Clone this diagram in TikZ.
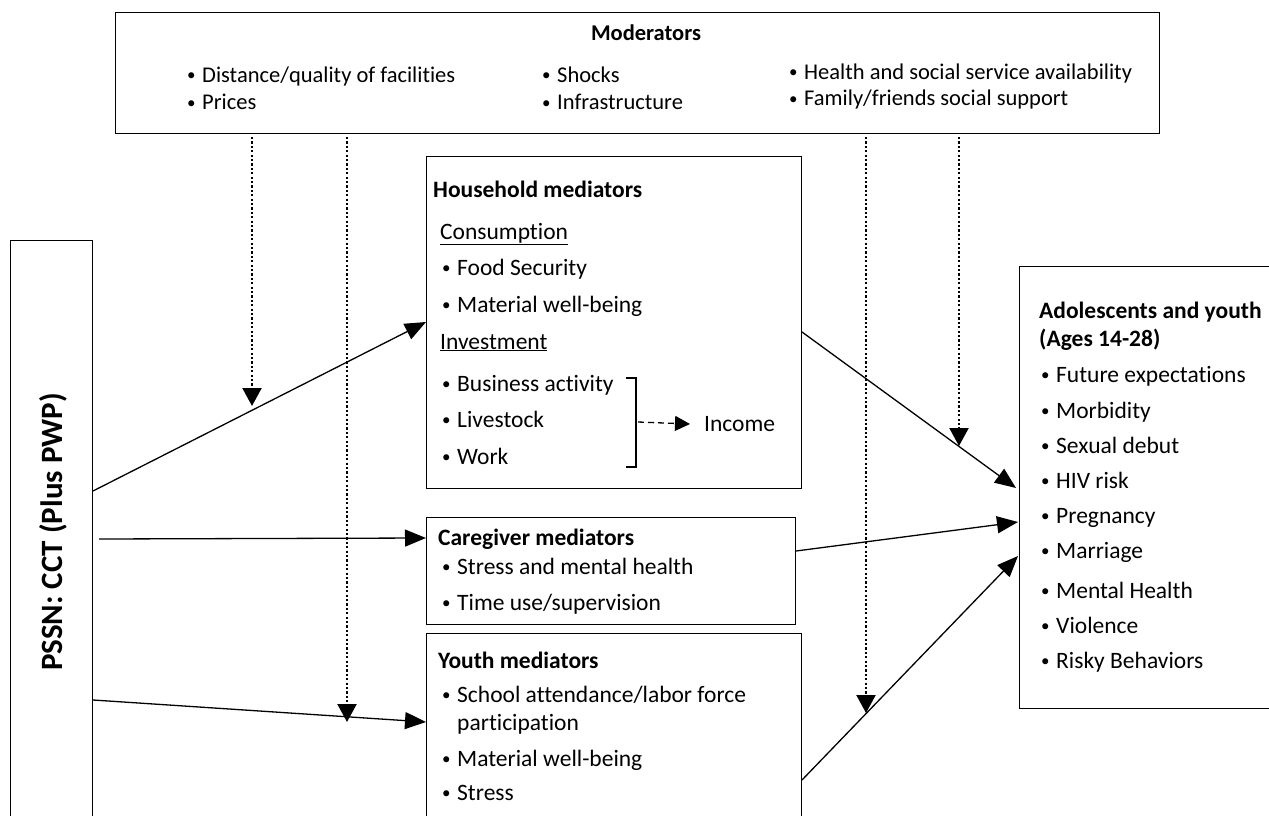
\documentclass[tikz,border=0pt]{standalone}
\usepackage{fontspec}
\setmainfont{Carlito}[Ligatures=NoCommon]
\usetikzlibrary{arrows.meta}
\newcommand{\bodyfont}{\fontsize{23.5}{28}\selectfont}
\newcommand{\modfont}{\fontsize{22.5}{27}\selectfont}
\newcommand{\bu}{\makebox[15pt][l]{\raisebox{1.6pt}{\fontsize{17}{17}\selectfont •}}}
\tikzset{
  boxst/.style={draw, line width=1.3pt, anchor=north west, inner sep=0pt},
  txt/.style={anchor=base west, inner sep=0pt, font=\bodyfont},
  mtxt/.style={anchor=base west, inner sep=0pt, font=\modfont},
  hd/.style={anchor=base west, inner sep=0pt, font=\bodyfont\bfseries},
  solidarr/.style={line width=1.3pt, -{Triangle[length=21pt,width=17pt]}},
  dotarr/.style={line width=2.2pt, dash pattern=on 2.2pt off 2.2pt, -{Triangle[length=18pt,width=19pt]}},
  dasharr/.style={line width=1.3pt, dash pattern=on 6pt off 4pt, -{Triangle[length=15pt,width=15pt]}}
}
\begin{document}
\begin{tikzpicture}[x=1pt,y=-1pt]
\useasboundingbox (0,0) rectangle (1269,816);
\clip (0,0) rectangle (1269,816);
\fill[white] (0,0) rectangle (1269,816);

% boxes
\node[boxst, minimum width=1044pt, minimum height=121pt] (mod) at (115,12) {};
\node[boxst, minimum width=82pt, minimum height=600pt] (pssn) at (10,240) {};
\node[boxst, minimum width=375pt, minimum height=332pt] (hh) at (426,156) {};
\node[boxst, minimum width=369pt, minimum height=107pt] (cg) at (426,517) {};
\node[boxst, minimum width=375pt, minimum height=200pt] (yo) at (426,633) {};
\node[boxst, minimum width=300pt, minimum height=442pt] (ad) at (1019,266) {};

% moderators
\node[hd, font=\modfont\bfseries, anchor=base] (modt) at (646,41) {Moderators};
\node[mtxt] (m1) at (187,82) {\bu Distance/quality of facilities};
\node[mtxt] (m2) at (187,110) {\bu Prices};
\node[mtxt] (m3) at (542,82) {\bu Shocks};
\node[mtxt] (m4) at (542,110) {\bu Infrastructure};
\node[mtxt] (m5) at (789,79) {\bu Health and social service availability};
\node[mtxt] (m6) at (789,106) {\bu Family/friends social support};

% PSSN
\node[inner sep=0pt, rotate=90, font=\fontsize{31}{36}\selectfont\bfseries] (pssnt) at (53,532) {PSSN: CCT (Plus PWP)};

% household
\node[hd] (hht) at (433,197) {Household mediators};
\node[txt] (hh1) at (440,239) {\underline{Consumption}};
\node[txt] (hh2) at (442,275) {\bu Food Security};
\node[txt] (hh3) at (442,312) {\bu Material well-being};
\node[txt] (hh4) at (440,349) {\underline{Investment}};
\node[txt] (hh5) at (442,391) {\bu Business activity};
\node[txt] (hh6) at (442,427) {\bu Livestock};
\node[txt] (hh7) at (442,464) {\bu Work};
\draw[line width=1.3pt] (626,378) -- (636,378) -- (636,467) -- (626,467);
\coordinate (brk) at (638,422);
\node[txt, anchor=west] (inc) at (704,424) {Income};
\draw[dasharr] (brk) -- (inc.west -| 690,0);

% caregiver
\node[hd] (cgt) at (438,545) {Caregiver mediators};
\node[txt] (cg1) at (442,574) {\bu Stress and mental health};
\node[txt] (cg2) at (442,610) {\bu Time use/supervision};

% youth
\node[hd] (yot) at (438,668) {Youth mediators};
\node[txt] (yo1) at (442,702) {\bu School attendance/labor force};
\node[txt] (yo2) at (457,730) {participation};
\node[txt] (yo3) at (442,766) {\bu Material well-being};
\node[txt] (yo4) at (442,800) {\bu Stress};

% adolescents
\node[hd] (adt1) at (1039,318) {Adolescents and youth};
\node[hd] (adt2) at (1039,346) {(Ages 14-28)};
\node[txt] (ad1) at (1041,382) {\bu Future expectations};
\node[txt] (ad2) at (1041,418) {\bu Morbidity};
\node[txt] (ad3) at (1041,453) {\bu Sexual debut};
\node[txt] (ad4) at (1041,488) {\bu HIV risk};
\node[txt] (ad5) at (1041,523) {\bu Pregnancy};
\node[txt] (ad6) at (1041,558) {\bu Marriage};
\node[txt] (ad7) at (1041,598) {\bu Mental Health};
\node[txt] (ad8) at (1041,633) {\bu Violence};
\node[txt] (ad9) at (1041,668) {\bu Risky Behaviors};

% solid connectors
\coordinate (p1) at (93,491);
\coordinate (p2) at (99,539);
\coordinate (p3) at (93,700);
\coordinate (h1) at (426,322);
\coordinate (c1) at (426,538);
\coordinate (y1) at (426,722);
\coordinate (h2) at (802,332);
\coordinate (c2) at (796,551);
\coordinate (y2) at (802,780);
\coordinate (a1) at (1016,488);
\coordinate (a2) at (1018,522);
\coordinate (a3) at (1018,556);
\draw[solidarr] (p1) -- (h1);
\draw[solidarr] (p2) -- (c1);
\draw[solidarr] (p3) -- (y1);
\draw[solidarr] (h2) -- (a1);
\draw[solidarr] (c2) -- (a2);
\draw[solidarr] (y2) -- (a3);

% dotted connectors
\coordinate (d1s) at (252,137);
\coordinate (d2s) at (347,137);
\coordinate (d3s) at (866,137);
\coordinate (d4s) at (959,137);
\coordinate (d1e) at (252,406);
\coordinate (d2e) at (347,722);
\coordinate (d3e) at (866,713);
\coordinate (d4e) at (959,446);
\draw[dotarr] (d1s) -- (d1e);
\draw[dotarr] (d2s) -- (d2e);
\draw[dotarr] (d3s) -- (d3e);
\draw[dotarr] (d4s) -- (d4e);
\end{tikzpicture}
\end{document}
